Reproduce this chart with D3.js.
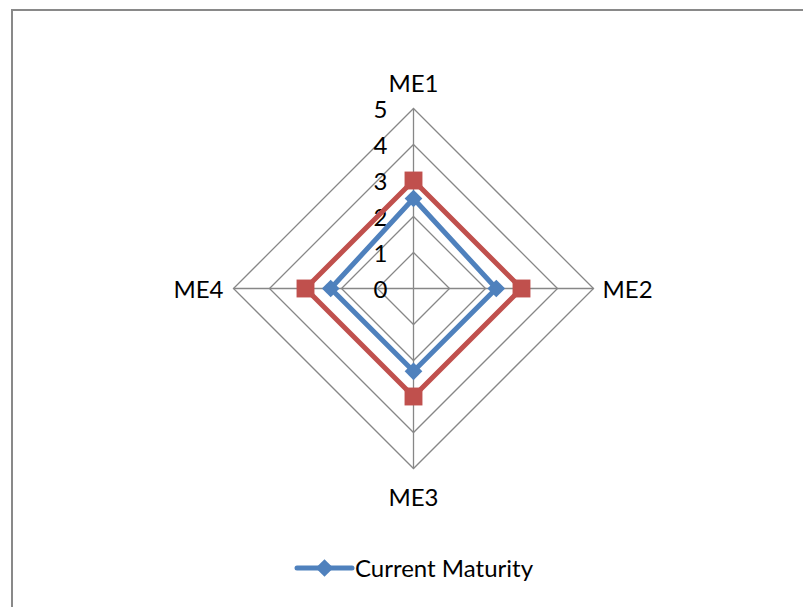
<!DOCTYPE html>
<html>
<head>
<meta charset="utf-8">
<script src="https://cdn.jsdelivr.net/npm/d3@7/dist/d3.min.js"></script>
<style>
  html, body { margin: 0; padding: 0; background: #fff; }
  svg { display: block; }
  text { font-family: Lato, "Open Sans", sans-serif; fill: #000; }
</style>
</head>
<body>
<svg id="chart" width="803" height="607"></svg>
<script>
// Axes of the radar, clockwise from the top
const categories = ["ME1", "ME2", "ME3", "ME4"];
// Scores per axis
const currentMaturity = [2.5, 2.3, 2.3, 2.3];
const targetMaturity = [3, 3, 3, 3];
// Ring values shown along the first axis
const tickValues = [0, 1, 2, 3, 4, 5];

const svg = d3.select("#chart");
const W = 803, H = 607;
const cx = 413.5, cy = 288.5, R = 180;
const FS = 24;

// Frame (left and top edges)
svg.append("path")
  .attr("d", `M12,${H} L12,10 L${W},10`)
  .attr("fill", "none").attr("stroke", "#898989").attr("stroke-width", 2);

const r = d3.scaleLinear().domain([0, 5]).range([0, R]);
const angle = d3.scalePoint().domain(categories).range([0, 2 * Math.PI * (categories.length - 1) / categories.length]);

function pt(cat, v) {
  const a = angle(cat);
  return [cx + r(v) * Math.sin(a), cy - r(v) * Math.cos(a)];
}

const g = svg.append("g");

// Rings
const ringLine = d3.line().curve(d3.curveLinearClosed);
g.selectAll("path.ring").data(tickValues.filter(v => v > 0)).join("path")
  .attr("class", "ring")
  .attr("d", v => ringLine(categories.map(c => pt(c, v))))
  .attr("fill", "none").attr("stroke", "#878787").attr("stroke-width", 1.3);

// Spokes
g.selectAll("line.spoke").data(categories).join("line")
  .attr("class", "spoke")
  .attr("x1", cx).attr("y1", cy)
  .attr("x2", c => pt(c, 5)[0]).attr("y2", c => pt(c, 5)[1])
  .attr("stroke", "#878787").attr("stroke-width", 1.3);

// Ring value labels
g.selectAll("text.tick").data(tickValues).join("text")
  .attr("class", "tick")
  .attr("x", cx - 26)
  .attr("y", v => cy - r(v) + 9)
  .attr("text-anchor", "end")
  .attr("font-size", FS)
  .text(d => d);

// Category labels
const labelPos = {
  ME1: { dx: 0, dy: -17, anchor: "middle" },
  ME2: { dx: 9, dy: 9, anchor: "start" },
  ME3: { dx: 0, dy: 37, anchor: "middle" },
  ME4: { dx: -10, dy: 9, anchor: "end" }
};
g.selectAll("text.cat").data(categories).join("text")
  .attr("class", "cat")
  .attr("x", c => pt(c, 5)[0] + labelPos[c].dx)
  .attr("y", c => pt(c, 5)[1] + labelPos[c].dy)
  .attr("text-anchor", c => labelPos[c].anchor)
  .attr("font-size", FS)
  .text(c => c);

function drawSeries(values, color, marker) {
  const pts = categories.map((c, i) => pt(c, values[i]));
  g.append("path")
    .attr("d", ringLine(pts))
    .attr("fill", "none").attr("stroke", color)
    .attr("stroke-width", 5).attr("stroke-linejoin", "round");
  const sym = d3.symbol().type(marker === "square" ? d3.symbolSquare : d3.symbolDiamond2)
    .size(marker === "square" ? 320 : 200);
  g.selectAll(null).data(pts).join("path")
    .attr("transform", d => `translate(${d[0]},${d[1]})`)
    .attr("d", sym)
    .attr("fill", color);
}

drawSeries(targetMaturity, "#C0504D", "square");
drawSeries(currentMaturity, "#4F81BD", "diamond");

// Legend
const lg = svg.append("g").attr("transform", "translate(297,568)");
lg.append("line").attr("x1", 0).attr("x2", 55).attr("y1", 0).attr("y2", 0)
  .attr("stroke", "#4F81BD").attr("stroke-width", 5).attr("stroke-linecap", "round");
lg.append("path").attr("transform", "translate(27.5,0)")
  .attr("d", d3.symbol().type(d3.symbolDiamond2).size(200)).attr("fill", "#4F81BD");
lg.append("text").attr("x", 58).attr("y", 9).attr("font-size", FS).text("Current Maturity");
</script>
</body>
</html>
